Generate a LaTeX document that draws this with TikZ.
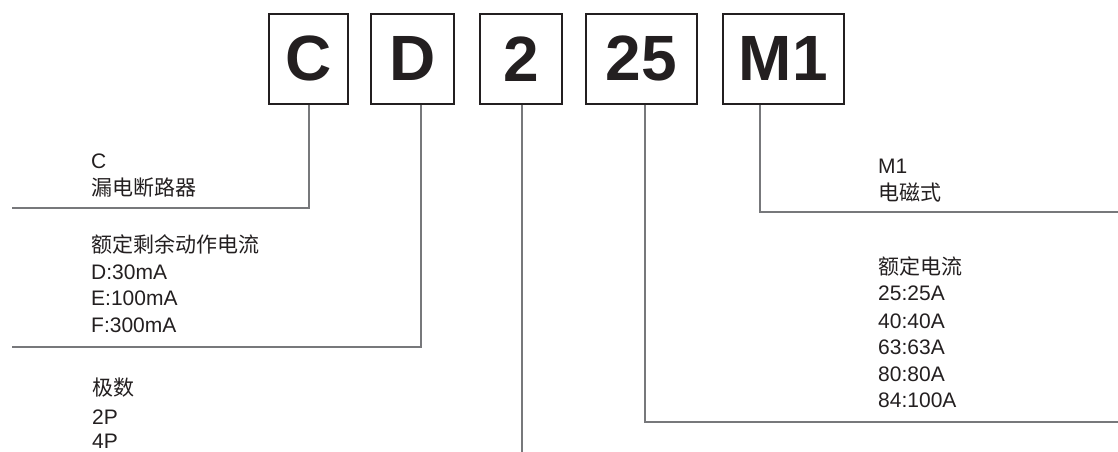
\documentclass[tikz,border=0pt]{standalone}
\usepackage{fontspec}
\setmainfont{Liberation Sans}
\newfontfamily\cjk{Noto Sans CJK SC}
\definecolor{boxline}{HTML}{231F20}
\definecolor{leader}{HTML}{77787B}
\definecolor{txt}{HTML}{231F20}
\begin{document}
\begin{tikzpicture}[x=1pt,y=-1pt,
  codebox/.style={draw=boxline,line width=1.7pt,inner sep=0pt,anchor=north west,
    font=\fontsize{64}{64}\selectfont\bfseries,text=boxline},
  leaderline/.style={draw=leader,line width=1.6pt},
  lbl/.style={anchor=base west,inner sep=0pt,text=txt,font=\fontsize{21}{21}\selectfont},
  clbl/.style={lbl,font=\fontsize{21}{21}\selectfont\cjk}]
\useasboundingbox (0,0) rectangle (1118,452);
% code boxes
\node[codebox,minimum width=79pt,minimum height=90pt] (C) at (268,13) {C};
\node[codebox,minimum width=83pt,minimum height=90pt] (D) at (370,13) {D};
\node[codebox,minimum width=82pt,minimum height=90pt] (two) at (479,13) {2};
\node[codebox,minimum width=111pt,minimum height=90pt] (tf) at (585,13) {25};
\node[codebox,minimum width=121pt,minimum height=90pt] (M) at (722,13) {M1};
% leader coordinates
\coordinate (cTurn) at (309,208);
\coordinate (cEnd) at (12,208);
\coordinate (dTurn) at (421,347);
\coordinate (dEnd) at (12,347);
\coordinate (pEnd) at (522,452);
\coordinate (aTurn) at (645,422);
\coordinate (aEnd) at (1118,422);
\coordinate (mTurn) at (760,212);
\coordinate (mEnd) at (1118,212);
% leaders
\draw[leaderline] (C.south -| cTurn) -- (cTurn) -- (cEnd);
\draw[leaderline] (D.south -| dTurn) -- (dTurn) -- (dEnd);
\draw[leaderline] (two.south -| pEnd) -- (pEnd);
\draw[leaderline] (tf.south -| aTurn) -- (aTurn) -- (aEnd);
\draw[leaderline] (M.south -| mTurn) -- (mTurn) -- (mEnd);
% left labels
\node[lbl] (l1) at (91,168) {C};
\node[clbl] (l2) at (91,195) {漏电断路器};
\node[clbl] (l3) at (91,252) {额定剩余动作电流};
\node[lbl] (l4) at (91,279) {D:30mA};
\node[lbl] (l5) at (91,305.5) {E:100mA};
\node[lbl] (l6) at (91,332) {F:300mA};
\node[clbl] (l7) at (92,395) {极数};
\node[lbl] (l8) at (92,424) {2P};
\node[lbl] (l9) at (92,448) {4P};
% right labels
\node[lbl] (r1) at (878,173) {M1};
\node[clbl] (r2) at (878,200) {电磁式};
\node[clbl] (r3) at (878,274) {额定电流};
\node[lbl] (r4) at (878,300.5) {25:25A};
\node[lbl] (r5) at (878,328) {40:40A};
\node[lbl] (r6) at (878,354.5) {63:63A};
\node[lbl] (r7) at (878,381) {80:80A};
\node[lbl] (r8) at (878,407) {84:100A};
\end{tikzpicture}
\end{document}
